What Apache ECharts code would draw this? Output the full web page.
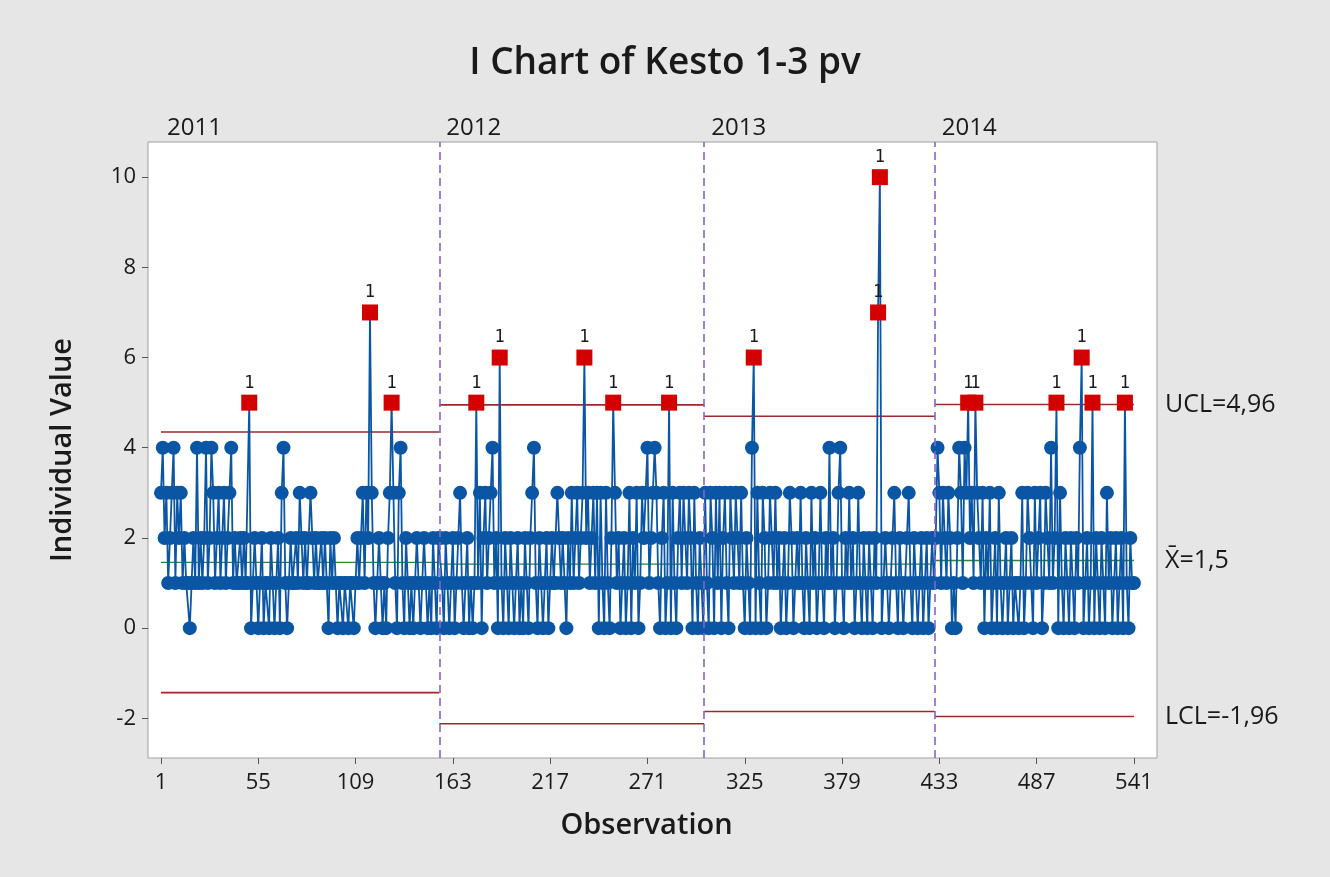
<!DOCTYPE html>
<html>
<head>
<meta charset="utf-8">
<title>I Chart of Kesto 1-3 pv</title>
<script src="https://cdn.jsdelivr.net/npm/echarts@6.0.0/dist/echarts.min.js"></script>
<style>
html, body { margin: 0; padding: 0; background: #fff; }
#main { width: 1330px; height: 877px; }
</style>
</head>
<body>
<div id="main"></div>
<script>
// stages (years) and their observation ranges
const years = ['2011', '2012', '2013', '2014'];
const stageStart = [1, 156, 303, 431];
const stageEnd = [155, 302, 430, 541];
// control limits per stage
const stageUCL = [4.35, 4.95, 4.70, 4.96];
const stageMean = [1.46, 1.42, 1.42, 1.50];
const stageLCL = [-1.43, -2.12, -1.85, -1.96];

// individual values, obs 1..155
const v2011 = [
    3, 4, 2, 3, 1, 2, 3, 4, 1, 3,
    2, 3, 1, 2, 1, 1, 0, 1, 2, 1,
    4, 1, 2, 1, 2, 4, 1, 2, 4, 3,
    1, 2, 3, 1, 2, 3, 1, 2, 3, 4,
    1, 2, 1, 1, 2, 1, 2, 1, 1, 5,
    0, 1, 2, 1, 0, 1, 2, 0, 1, 1,
    0, 2, 1, 0, 1, 2, 0, 3, 4, 1,
    0, 1, 2, 1, 1, 2, 1, 3, 2, 1,
    2, 1, 1, 3, 2, 1, 2, 1, 1, 2,
    1, 2, 1, 0, 2, 1, 2, 1, 0, 1,
    1, 0, 1, 1, 0, 1, 1, 0, 1, 2,
    1, 2, 3, 1, 3, 2, 7, 3, 1, 0,
    1, 2, 1, 0, 1, 0, 2, 3, 5, 3,
    1, 0, 3, 4, 1, 0, 2, 1, 0, 1,
    0, 1, 2, 1, 0, 1, 2, 1, 0, 1,
    0, 2, 1, 0, 2
];
// obs 156..302
const v2012 = [
    2, 1, 0, 2, 1, 0, 1, 2, 0, 1,
    2, 3, 1, 0, 1, 2, 0, 1, 0, 1,
    5, 1, 3, 0, 2, 3, 1, 2, 3, 4,
    1, 2, 0, 6, 1, 0, 2, 1, 0, 2,
    1, 0, 1, 2, 0, 1, 0, 2, 1, 0,
    2, 3, 4, 1, 0, 2, 1, 0, 1, 2,
    0, 1, 2, 1, 1, 3, 2, 1, 2, 1,
    0, 2, 1, 3, 1, 2, 3, 1, 2, 3,
    6, 2, 3, 1, 2, 3, 1, 3, 0, 3,
    1, 0, 3, 1, 0, 2, 5, 3, 1, 2,
    0, 1, 2, 0, 1, 3, 0, 2, 1, 3,
    0, 1, 3, 2, 3, 4, 1, 2, 3, 4,
    3, 1, 0, 2, 3, 0, 1, 5, 0, 3,
    1, 0, 2, 3, 1, 3, 2, 1, 3, 2,
    0, 3, 1, 0, 2, 1, 0
];
// obs 303..430
const v2013 = [
    3, 1, 0, 3, 2, 0, 3, 1, 3, 0,
    2, 3, 1, 0, 3, 2, 1, 3, 2, 1,
    3, 1, 0, 2, 1, 0, 4, 6, 0, 3,
    1, 0, 3, 2, 0, 1, 3, 2, 1, 3,
    1, 2, 0, 1, 2, 0, 1, 3, 2, 0,
    1, 2, 1, 3, 1, 0, 2, 1, 0, 3,
    1, 2, 0, 1, 3, 1, 0, 2, 1, 4,
    1, 2, 0, 1, 3, 4, 1, 0, 2, 1,
    3, 1, 2, 0, 1, 3, 1, 0, 2, 1,
    0, 2, 1, 0, 2, 1, 7, 10, 0, 1,
    2, 1, 0, 1, 2, 3, 1, 0, 2, 1,
    0, 1, 2, 3, 1, 0, 2, 1, 0, 1,
    2, 0, 1, 2, 0, 1, 2, 1
];
// obs 431..541
const v2014 = [
    2, 4, 3, 1, 3, 2, 1, 3, 2, 0,
    1, 0, 2, 4, 3, 1, 4, 3, 5, 2,
    3, 1, 5, 3, 2, 1, 3, 0, 2, 1,
    3, 0, 1, 2, 0, 3, 1, 0, 1, 2,
    0, 1, 2, 0, 1, 1, 0, 1, 3, 0,
    1, 3, 2, 1, 0, 3, 1, 2, 3, 0,
    1, 3, 2, 1, 4, 1, 2, 5, 0, 3,
    1, 0, 2, 1, 0, 2, 1, 0, 2, 1,
    4, 6, 0, 1, 2, 0, 1, 5, 0, 2,
    1, 0, 2, 1, 0, 3, 1, 2, 0, 1,
    2, 0, 1, 2, 0, 5, 1, 0, 2, 1, 1
];

// tick labels
const xTicks = [1, 55, 109, 163, 217, 271, 325, 379, 433, 487, 541];
const yTicks = [-2, 0, 2, 4, 6, 8, 10];

const font = 'Open Sans';
const values = v2011.concat(v2012, v2013, v2014);
const points = values.map((v, i) => [i + 1, v]);

const stageOf = (o) => {
    let s = 0;
    while (s < stageStart.length - 1 && o >= stageStart[s + 1]) s++;
    return s;
};
// points beyond the limits of their stage (test 1)
const redPoints = points.filter(p => {
    const s = stageOf(p[0]);
    return p[1] > stageUCL[s] || p[1] < stageLCL[s];
});

// year label position and divider position = half way between stages
const yearAt = stageStart.map(s => s - 0.5);
const comma = (v) => String(v).replace('.', ',');
const last = years.length - 1;
const rightLabels = [stageUCL[last], stageMean[last], stageLCL[last]];
const rightNames = ['UCL=' + comma(stageUCL[last]), 'X\u0304=' + comma(stageMean[last]), 'LCL=' + comma(stageLCL[last])];

// UCL / centre / LCL segments, one short line per stage
const limitSeries = [];
years.forEach((y, s) => {
    const x0 = s === 0 ? stageStart[s] : stageStart[s] - 0.5;
    const x1 = s === last ? stageEnd[s] : stageEnd[s] + 0.5;
    [[stageUCL[s], '#9e2a2e', 1.6], [stageMean[s], '#2a8a2a', 1.3], [stageLCL[s], '#9e2a2e', 1.6]].forEach(([v, c, w]) => {
        limitSeries.push({
            type: 'line',
            data: [[x0, v], [x1, v]],
            symbol: 'none',
            silent: true,
            z: 1,
            lineStyle: { color: c, width: w }
        });
    });
});

const chart = echarts.init(document.getElementById('main'));
const option = {
    backgroundColor: '#e6e6e6',
    animation: false,
    title: {
        text: 'I Chart of Kesto 1-3 pv',
        left: 'center',
        top: 40,
        textStyle: { fontFamily: font, fontSize: 37, fontWeight: 600, color: '#1a1a1a' }
    },
    grid: {
        left: 148, right: 173, top: 142, bottom: 119,
        show: true,
        backgroundColor: '#ffffff',
        borderColor: '#a0a0a0',
        borderWidth: 1
    },
    xAxis: [{
        type: 'value',
        min: -6.2, max: 553.8,
        name: 'Observation',
        nameLocation: 'middle',
        nameGap: 53,
        nameTextStyle: { fontFamily: font, fontSize: 29, fontWeight: 600, color: '#1a1a1a', padding: [0, 12, 0, 0] },
        splitLine: { show: false },
        axisLine: { show: false, onZero: false },
        axisTick: { show: true, length: 6, customValues: xTicks, lineStyle: { color: '#555' } },
        axisLabel: { customValues: xTicks, fontFamily: font, fontSize: 22, color: '#1a1a1a', margin: 14 }
    }, {
        type: 'value',
        position: 'top',
        min: -6.2, max: 553.8,
        splitLine: { show: false },
        axisLine: { show: false, onZero: false },
        axisTick: { show: false },
        axisLabel: {
            customValues: yearAt,
            formatter: (v) => years[yearAt.indexOf(v)] || '',
            align: 'left',
            padding: [0, 0, 0, 7],
            margin: 2,
            fontFamily: font, fontSize: 24, color: '#1a1a1a'
        }
    }],
    yAxis: [{
        type: 'value',
        min: -2.88, max: 10.78,
        name: 'Individual Value',
        nameLocation: 'middle',
        nameGap: 71,
        nameTextStyle: { fontFamily: font, fontSize: 29, fontWeight: 600, color: '#1a1a1a' },
        splitLine: { show: false },
        axisLine: { show: false, onZero: false },
        axisTick: { show: true, length: 6, customValues: yTicks, lineStyle: { color: '#555' } },
        axisLabel: { customValues: yTicks, fontFamily: font, fontSize: 22, color: '#1a1a1a', margin: 12 }
    }, {
        type: 'value',
        position: 'right',
        min: -2.88, max: 10.78,
        splitLine: { show: false },
        axisLine: { show: false, onZero: false },
        axisTick: { show: false },
        axisLabel: {
            customValues: rightLabels,
            formatter: (v) => rightNames[rightLabels.indexOf(v)] || '',
            margin: 8,
            fontFamily: font, fontSize: 25, color: '#1a1a1a'
        }
    }],
    series: limitSeries.concat([
        {
            name: 'Individual Value',
            type: 'line',
            data: points,
            z: 2,
            symbol: 'circle',
            symbolSize: 14,
            showAllSymbol: true,
            sampling: null,
            itemStyle: { color: '#0b56a4' },
            lineStyle: { color: '#0b56a4', width: 1.8 }
        },
        {
            name: 'Test 1',
            type: 'scatter',
            data: redPoints,
            z: 3,
            symbol: 'rect',
            symbolSize: 16,
            itemStyle: { color: '#d40000', opacity: 1 },
            label: {
                show: true,
                position: 'top',
                distance: 3,
                formatter: '1',
                fontFamily: 'DejaVu Sans Mono',
                fontSize: 17,
                color: '#1a1a1a'
            },
            markLine: {
                silent: true,
                symbol: 'none',
                label: { show: false },
                lineStyle: { color: '#8a5fd6', type: [8, 5], width: 1.6 },
                data: yearAt.slice(1).map(x => ({ xAxis: x }))
            }
        }
    ])
};
option && chart.setOption(option);
</script>
</body>
</html>
